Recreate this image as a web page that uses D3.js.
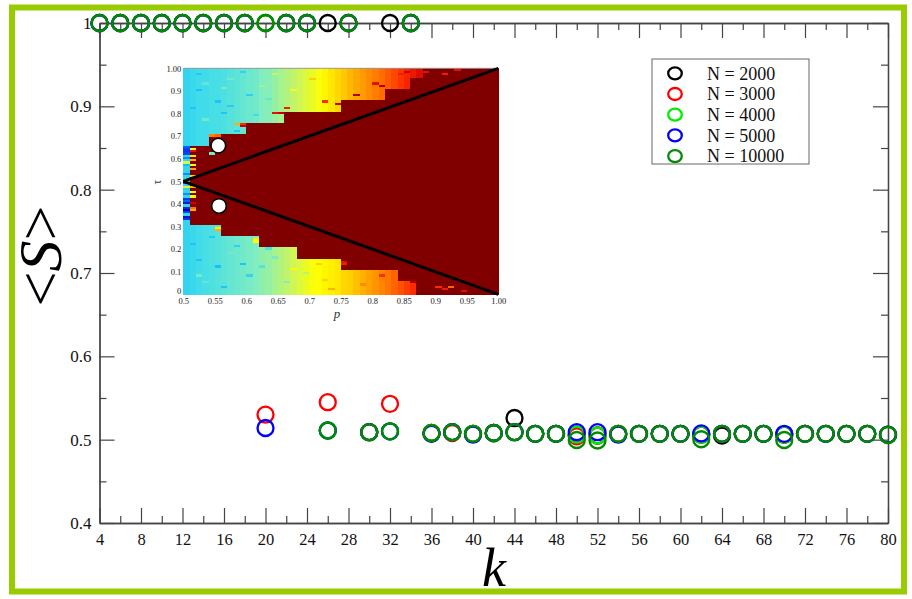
<!DOCTYPE html>
<html>
<head>
<meta charset="utf-8">
<script src="https://cdn.jsdelivr.net/npm/d3@7"></script>
<style>
  body { margin: 0; background: #fff; }
  svg text { font-family: "Liberation Serif", "DejaVu Serif", serif; }
</style>
</head>
<body>
<div id="chart"></div>
<script>
// main chart data: <S> vs k for several N
const kValues = d3.range(4, 81, 2);
const seriesNames = ["N = 2000", "N = 3000", "N = 4000", "N = 5000", "N = 10000"];
const seriesColors = ["#000000", "#ff0000", "#00ee00", "#0000ff", "#008b00"];
const s2000 = [1,1,1,1,1,1,1,1, 1,1,1, 1,1,0.509,1,1, 0.508,0.509,0.507,0.508,0.526,0.507,0.507,0.506,0.505,0.507,0.507,0.507,0.507,0.506,0.505,0.507,0.507,0.506,0.507,0.507,0.507,0.507,0.506];
const s3000 = [1,1,1,1,1,1,1,1, 0.530,1,1, 0.545,1,0.509,0.543,1, 0.508,0.508,0.507,0.508,0.509,0.507,0.507,0.504,0.505,0.507,0.507,0.507,0.507,0.506,0.507,0.507,0.507,0.506,0.507,0.507,0.507,0.507,0.506];
const s4000 = [1,1,1,1,1,1,1,1, 1,1,1, 0.511,1,0.509,0.510,1, 0.508,0.509,0.507,0.508,0.509,0.507,0.507,0.506,0.505,0.507,0.507,0.507,0.507,0.506,0.507,0.507,0.507,0.506,0.507,0.507,0.507,0.507,0.506];
const s5000 = [1,1,1,1,1,1,1,1, 0.514,1,1, 0.511,1,0.509,0.510,1, 0.507,0.509,0.506,0.508,0.509,0.507,0.507,0.509,0.509,0.506,0.507,0.507,0.507,0.5075,0.507,0.507,0.507,0.507,0.507,0.507,0.507,0.507,0.506];
const s10000 = [1,1,1,1,1,1,1,1, 1,1,1, 0.511,1,0.509,0.510,1, 0.508,0.509,0.507,0.508,0.509,0.507,0.507,0.4996,0.499,0.507,0.507,0.507,0.507,0.5005,0.507,0.507,0.507,0.4996,0.507,0.507,0.507,0.507,0.5056];
const seriesValues = [s2000, s3000, s4000, s5000, s10000];
const xMajor = d3.range(4, 81, 4);
const xMinor = d3.range(6, 80, 4);
const yMajor = [0.4, 0.5, 0.6, 0.7, 0.8, 0.9, 1];
const yMinor = [0.45, 0.55, 0.65, 0.75, 0.85, 0.95];

// inset heat map (p on x, tau on y), one entry per column p = 0.50 ... 0.99
const pCols = d3.range(50).map(i => 0.5 + i * 0.01);
const tauRows = d3.range(100).map(i => i * 0.01);
const redTop = [0.5,0.66,0.66,0.66,0.71,0.71,0.71,0.71,0.71,0.71, 0.76,0.76,0.76,0.76,0.76,0.76,0.81,0.81,0.81,0.81, 0.81,0.81,0.81,0.81,0.81,0.86,0.86,0.86,0.86,0.86, 0.86,0.86,0.91,0.91,0.91,0.91,0.96,0.96,1,1, 1,1,1,1,1,1,1,1,1,1];
const redBottom = [0.5,0.31,0.31,0.31,0.31,0.31,0.26,0.26,0.26,0.26, 0.26,0.26,0.21,0.21,0.21,0.21,0.21,0.21,0.16,0.16, 0.16,0.16,0.16,0.16,0.16,0.11,0.11,0.11,0.11,0.11, 0.11,0.11,0.11,0.11,0.06,0.06,0.06,0,0,0, 0,0,0,0,0,0,0,0,0,0];
const heatUpper = [0.31,0.32,0.33,0.33,0.34,0.34,0.35,0.36,0.37,0.38, 0.39,0.40,0.42,0.43,0.45,0.47,0.49,0.51,0.53,0.55, 0.57,0.59,0.61,0.63,0.65,0.67,0.69,0.71,0.73,0.75, 0.77,0.79,0.81,0.83,0.85,0.87,0.89,0.91,0.93,0.94, 0.95,0.95,0.96,0.96,0.96,0.96,0.96,0.96,0.96,0.96];
const heatLower = [0.31,0.32,0.33,0.34,0.35,0.36,0.37,0.38,0.39,0.40, 0.41,0.42,0.44,0.45,0.47,0.49,0.51,0.53,0.55,0.57, 0.59,0.60,0.61,0.62,0.63,0.65,0.66,0.68,0.70,0.72, 0.74,0.76,0.78,0.80,0.82,0.84,0.86,0.88,0.90,0.92, 0.93,0.94,0.94,0.94,0.94,0.94,0.94,0.94,0.94,0.94];
// single cells that differ from their column: [p, tau, heat]
const speckles = [
  [0.50,0.33,0.10],[0.50,0.34,0.05],[0.50,0.36,0.12],[0.50,0.37,0.0],[0.50,0.38,0.08],[0.50,0.40,0.05],
  [0.50,0.41,0.15],[0.50,0.42,0.10],[0.50,0.44,0.20],[0.50,0.47,0.55],[0.50,0.49,0.15],[0.50,0.53,0.20],
  [0.50,0.57,0.25],[0.50,0.58,0.55],[0.50,0.60,0.20],[0.50,0.62,0.12],[0.50,0.63,0.10],[0.50,0.64,0.12],[0.50,0.65,0.15],
  [0.51,0.37,0.70],[0.51,0.38,0.78],[0.51,0.40,0.93],[0.51,0.43,0.60],[0.51,0.45,0.58],[0.51,0.47,0.70],
  [0.51,0.52,0.65],[0.51,0.55,0.72],[0.51,0.57,0.58],[0.51,0.59,0.70],[0.51,0.61,0.62],[0.51,0.63,0.90],[0.51,0.64,0.58],
  [0.54,0.70,0.76],[0.55,0.70,0.80],[0.55,0.69,0.93],[0.58,0.75,0.70],[0.59,0.75,0.86],[0.59,0.74,0.93],
  [0.64,0.80,0.90],[0.65,0.80,0.93],[0.66,0.82,0.88],[0.72,0.85,0.86],[0.74,0.84,0.93],[0.77,0.88,0.95],
  [0.80,0.93,0.90],[0.81,0.92,0.95],[0.84,0.97,0.88],[0.85,0.98,0.93],[0.88,0.98,0.90],[0.91,0.97,0.88],[0.93,0.99,0.90],
  [0.55,0.29,0.62],[0.55,0.28,0.70],[0.61,0.23,0.60],[0.61,0.24,0.62],[0.75,0.14,0.90],[0.75,0.13,0.88],
  [0.86,0.05,0.95],[0.90,0.03,0.86],[0.91,0.02,0.88],[0.92,0.03,0.80],[0.94,0.01,0.90],
  [0.52,0.90,0.26],[0.53,0.93,0.38],[0.55,0.85,0.27],[0.57,0.95,0.40],[0.60,0.88,0.30],[0.58,0.72,0.28],
  [0.62,0.92,0.47],[0.56,0.80,0.27],[0.53,0.77,0.40],[0.64,0.97,0.52],[0.67,0.90,0.58],[0.70,0.95,0.66],
  [0.52,0.15,0.27],[0.55,0.12,0.26],[0.57,0.18,0.40],[0.60,0.08,0.31],[0.63,0.20,0.35],[0.66,0.05,0.42],
  [0.53,0.05,0.38],[0.59,0.13,0.27],[0.69,0.09,0.50],[0.72,0.06,0.66],[0.78,0.04,0.75],[0.81,0.08,0.86],
  [0.51,0.82,0.27],[0.52,0.97,0.28],[0.54,0.62,0.40],[0.56,0.91,0.41],[0.57,0.83,0.29],[0.59,0.98,0.30],
  [0.61,0.79,0.33],[0.63,0.86,0.38],[0.51,0.22,0.27],[0.52,0.08,0.40],[0.54,0.25,0.28],[0.56,0.03,0.27],
  [0.58,0.21,0.30],[0.62,0.12,0.36],[0.64,0.16,0.41],[0.67,0.11,0.60],[0.71,0.13,0.66],[0.73,0.02,0.70]
];
const insetPTicks = [0.5,0.55,0.6,0.65,0.7,0.75,0.8,0.85,0.9,0.95,1.0];
const insetTauTicks = [0,0.1,0.2,0.3,0.4,0.5,0.6,0.7,0.8,0.9,1.0];
const insetLines = [[[0.5,0.5],[1,1]], [[0.5,0.5],[1,0]]];
const insetDots = [[0.5556,0.658],[0.5566,0.391]];

const W = 912, H = 599;
const svg = d3.select("#chart").append("svg").attr("width", W).attr("height", H);

// green frame
svg.append("rect").attr("x", 12).attr("y", 7.5).attr("width", 892).attr("height", 584)
  .attr("fill", "#fff").attr("stroke", "#99cc00").attr("stroke-width", 6);

const x = d3.scaleLinear().domain([4, 80]).range([99.5, 888]);
const y = d3.scaleLinear().domain([0.4, 1]).range([523, 23]);
const axisColor = "#444";

function styleAxis(g) {
  g.select(".domain").attr("stroke", axisColor).attr("stroke-width", 1.3);
  g.selectAll(".tick line").attr("stroke", axisColor).attr("stroke-width", 1.2);
  g.selectAll("text").attr("font-family", "Liberation Serif").attr("fill", "#111");
}

// bottom
svg.append("g").attr("transform", "translate(0,523)")
  .call(d3.axisBottom(x).tickValues(xMajor).tickSize(-15).tickPadding(10).tickSizeOuter(0))
  .call(styleAxis).call(g => g.selectAll("text").attr("font-size", 16.5));
svg.append("g").attr("transform", "translate(0,523)")
  .call(d3.axisBottom(x).tickValues(xMinor).tickSize(-7).tickFormat("").tickSizeOuter(0))
  .call(styleAxis);
// top
svg.append("g").attr("transform", "translate(0,23)")
  .call(d3.axisTop(x).tickValues(xMajor).tickSize(-15).tickFormat("").tickSizeOuter(0))
  .call(styleAxis);
svg.append("g").attr("transform", "translate(0,23)")
  .call(d3.axisTop(x).tickValues(xMinor).tickSize(-7).tickFormat("").tickSizeOuter(0))
  .call(styleAxis);
// left
svg.append("g").attr("transform", "translate(99.5,0)")
  .call(d3.axisLeft(y).tickValues(yMajor).tickSize(-15).tickPadding(8).tickSizeOuter(0)
    .tickFormat(d => d === 1 ? "1" : d3.format(".1f")(d)))
  .call(styleAxis).call(g => g.selectAll("text").attr("font-size", 17));
svg.append("g").attr("transform", "translate(99.5,0)")
  .call(d3.axisLeft(y).tickValues(yMinor).tickSize(-7).tickFormat("").tickSizeOuter(0))
  .call(styleAxis);
// right
svg.append("g").attr("transform", "translate(888,0)")
  .call(d3.axisRight(y).tickValues(yMajor).tickSize(-15).tickFormat("").tickSizeOuter(0))
  .call(styleAxis);
svg.append("g").attr("transform", "translate(888,0)")
  .call(d3.axisRight(y).tickValues(yMinor).tickSize(-7).tickFormat("").tickSizeOuter(0))
  .call(styleAxis);

// axis titles
svg.append("text").attr("x", 494).attr("y", 586).attr("text-anchor", "middle")
  .attr("font-size", 54).attr("font-style", "italic").text("k");
const yt = svg.append("text").attr("transform", "translate(61,256) rotate(-90)")
  .attr("text-anchor", "middle").attr("font-size", 62);
yt.append("tspan").text("<");
yt.append("tspan").attr("font-style", "italic").text("S");
yt.append("tspan").text(">");

// inset
const ix = d3.scaleLinear().domain([0.5, 1]).range([183.3, 498.3]);
const iy = d3.scaleLinear().domain([0, 1]).range([294.3, 68.3]);
const heatColor = d3.scaleLinear()
  .domain([0, 0.12, 0.25, 0.33, 0.42, 0.52, 0.60, 0.70, 0.78, 0.86, 0.93, 1])
  .range(["#0000aa", "#0044ff", "#10bcff", "#40dcea", "#80eec0", "#c8f560", "#ffff00", "#ffb000", "#ff7700", "#ff2a00", "#cc0000", "#800000"])
  .clamp(true);

const cells = [];
pCols.forEach((p, ci) => {
  tauRows.forEach(t => {
    let v;
    if (t >= redBottom[ci] - 1e-9 && t < redTop[ci] - 1e-9) v = 1;
    else v = t >= redTop[ci] - 1e-9 ? heatUpper[ci] : heatLower[ci];
    cells.push({ p, t, v });
  });
});
const key = (p, t) => Math.round(p * 100) + "_" + Math.round(t * 100);
const cellMap = new Map(cells.map(c => [key(c.p, c.t), c]));
speckles.forEach(([p, t, v]) => { const c = cellMap.get(key(p, t)); if (c) c.v = v; });

const inset = svg.append("g");
inset.append("g").selectAll("rect").data(cells).join("rect")
  .attr("x", d => ix(d.p))
  .attr("y", d => iy(d.t + 0.01))
  .attr("width", ix(0.51) - ix(0.5) + 0.4)
  .attr("height", iy(0) - iy(0.01) + 0.4)
  .attr("fill", d => heatColor(d.v))
  .attr("shape-rendering", "crispEdges");

inset.append("line").attr("x1", ix(0.5)).attr("x2", ix(1)).attr("y1", iy(1)).attr("y2", iy(1))
  .attr("stroke", "#999").attr("stroke-width", 1);

const line = d3.line().x(d => ix(d[0])).y(d => iy(d[1]));
inset.selectAll(".tri").data(insetLines).join("path")
  .attr("d", line).attr("fill", "none").attr("stroke", "#000").attr("stroke-width", 3);

inset.selectAll(".dot").data(insetDots).join("circle")
  .attr("cx", d => ix(d[0])).attr("cy", d => iy(d[1])).attr("r", 7.3)
  .attr("fill", "#fff").attr("stroke", "#000").attr("stroke-width", 1.5);

inset.append("g").attr("transform", `translate(0,${iy(0)})`)
  .call(d3.axisBottom(ix).tickValues(insetPTicks).tickSize(0).tickPadding(3.5)
    .tickFormat(d => d === 1 ? "1.00" : String(d)))
  .call(g => g.select(".domain").remove())
  .call(g => g.selectAll("text").attr("font-family", "Liberation Sans").attr("font-size", 8.5).attr("fill", "#222"));
inset.append("g").attr("transform", `translate(${ix(0.5)},0)`)
  .call(d3.axisLeft(iy).tickValues(insetTauTicks).tickSize(0).tickPadding(2)
    .tickFormat(d => d === 1 ? "1.00" : String(d)))
  .call(g => g.select(".domain").remove())
  .call(g => g.selectAll("text").attr("font-family", "Liberation Sans").attr("font-size", 8.5).attr("fill", "#222"))
  .call(g => g.selectAll(".tick").filter(d => d === 0).select("text").attr("dy", "-0.05em"));
inset.append("text").attr("x", 337).attr("y", 318).attr("text-anchor", "middle")
  .attr("font-size", 13).attr("font-style", "italic").attr("fill", "#333").text("p");
inset.append("text").attr("transform", "translate(161,182) rotate(-90)").attr("text-anchor", "middle")
  .attr("font-size", 12).attr("fill", "#333").text("τ");

// data circles
seriesValues.forEach((vals, si) => {
  svg.append("g").selectAll("circle").data(kValues.map((k, i) => ({ k, v: vals[i] }))).join("circle")
    .attr("cx", d => x(d.k)).attr("cy", d => y(d.v)).attr("r", 8)
    .attr("fill", "none").attr("stroke", seriesColors[si]).attr("stroke-width", 2.3);
});

// legend
const lg = svg.append("g");
lg.append("rect").attr("x", 652).attr("y", 59).attr("width", 157).attr("height", 105)
  .attr("fill", "#fff").attr("stroke", "#666").attr("stroke-width", 1);
seriesNames.forEach((name, i) => {
  const cy = 73.3 + i * 20.7;
  lg.append("ellipse").attr("cx", 675).attr("cy", cy).attr("rx", 6.8).attr("ry", 6)
    .attr("fill", "none").attr("stroke", seriesColors[i]).attr("stroke-width", 2.3);
  lg.append("text").attr("x", 707).attr("y", cy).attr("dy", "0.35em")
    .attr("font-size", 18).attr("fill", "#111").text(name);
});
</script>
</body>
</html>
